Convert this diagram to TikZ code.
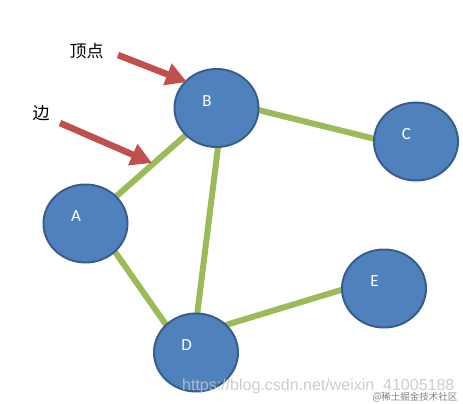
\documentclass[tikz,border=0pt]{standalone}
\usepackage{fontspec}
\setsansfont{Carlito}
\newfontfamily\cjk{Noto Sans CJK SC}
\newfontfamily\wmfont{Liberation Sans}
\usetikzlibrary{shapes.geometric,arrows.meta,backgrounds}
\definecolor{nodeblue}{HTML}{4F81BD}
\definecolor{nodeedge}{HTML}{385D8A}
\definecolor{edgegreen}{HTML}{9BBB59}
\definecolor{arrowred}{HTML}{C0504D}
\definecolor{wmgray}{HTML}{C4C4C4}
\tikzset{
  vertex/.style={ellipse, draw=nodeedge, line width=2pt, fill=nodeblue,
    minimum width=84pt, minimum height=78pt, inner sep=0pt,
    label={[text=white, font=\sffamily\fontsize{17}{20}\selectfont, xshift=-9.5pt, yshift=7pt]center:#1}},
  edgeline/.style={draw=edgegreen, line width=6pt, shorten <=-5pt, shorten >=-5pt},
  pointer/.style={draw=arrowred, line width=6.5pt, -{Triangle[length=21pt,width=22pt]}},
  cjklabel/.style={font=\cjk\fontsize{17}{20}\selectfont, inner sep=0pt}
}
\begin{document}
\begin{tikzpicture}[x=1pt,y=-1pt]
\useasboundingbox (0,0) rectangle (463,404);
\node[vertex=B] (B) at (216.5,108) {};
\node[vertex=A] (A) at (85.5,223.5) {};
\node[vertex=C] (C) at (416,141.5) {};
\node[vertex=D] (D) at (196,352.5) {};
\node[vertex=E] (E) at (384,288.5) {};
\begin{scope}[on background layer]
  \draw[edgeline] (A) -- (B);
  \draw[edgeline] (A.-44) -- (D.137);
  \draw[edgeline] (B.-88) -- (D.88);
  \draw[edgeline] (B.-3) -- (C.176);
  \draw[edgeline] (D.42) -- (E.182);
\end{scope}
\node[cjklabel] (vlabel) at (86.5,51.5) {顶点};
\node[cjklabel] (elabel) at (41,113) {边};
\coordinate (t1) at (118,55);
\coordinate (h1) at (187,82);
\coordinate (t2) at (60,123);
\coordinate (h2) at (152,163);
\draw[pointer] (t1) -- (h1);
\draw[pointer] (t2) -- (h2);
\node[text=wmgray, opacity=0.85, font=\wmfont\fontsize{16}{18}\selectfont, inner sep=0pt, anchor=base west] (wm1) at (182,390) {https://blog.csdn.net/weixin\_41005188};
\node[text=gray, font=\cjk\fontsize{9.5}{11}\selectfont, inner sep=0pt] (wm2) at (415,397) {@稀土掘金技术社区};
\end{tikzpicture}
\end{document}
